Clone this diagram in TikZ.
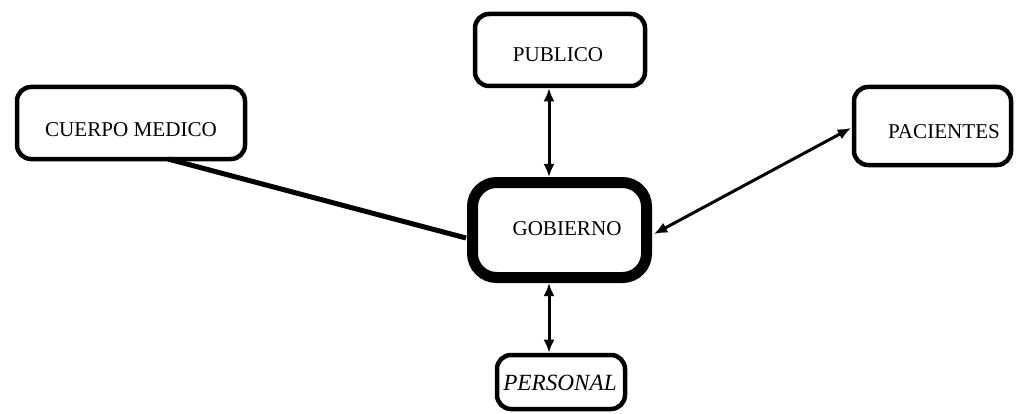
\documentclass[tikz,border=0pt]{standalone}
\usepackage{fontspec}
\setmainfont{Liberation Serif}
\usetikzlibrary{arrows.meta}
\newlength\pxu
\setlength\pxu{0.025cm}
\begin{document}
\begin{tikzpicture}[x=0.025cm, y=-0.025cm,
  box/.style={draw, rectangle, rounded corners=14\pxu, line width=4.5\pxu,
    inner sep=0pt, fill=white},
  mainbox/.style={box, rounded corners=24\pxu, line width=11\pxu},
  lbl/.style={inner sep=0pt, font=\fontsize{15pt}{18pt}\selectfont},
  biarrow/.style={line width=3\pxu,
    {Latex[length=0.33cm,width=0.28cm]}-{Latex[length=0.33cm,width=0.28cm]}},
  plainlink/.style={line width=5\pxu}]
\useasboundingbox (0,0) rectangle (1016,413);

% boxes
\node[mainbox, minimum width=174\pxu, minimum height=95\pxu] (gob) at (559.5,230) {};
\node[box, minimum width=170\pxu, minimum height=72\pxu] (pub) at (560,50) {};
\node[box, minimum width=228\pxu, minimum height=72\pxu] (cm) at (131,123) {};
\node[box, minimum width=157\pxu, minimum height=78\pxu] (pac) at (932.5,126) {};
\node[box, minimum width=128\pxu, minimum height=54\pxu] (per) at (561,382) {};

% labels
\node[lbl] (gobT) at (567,229) {GOBIERNO};
\node[lbl] (pubT) at (558,55) {PUBLICO};
\node[lbl] (cmT) at (131,130) {CUERPO MEDICO};
\node[lbl] (pacT) at (944,132) {PACIENTES};
\node[lbl, font=\fontsize{16.5pt}{19pt}\selectfont\itshape] (perT) at (560,383) {PERSONAL};

% connection points
\coordinate (axis) at (549,0);
\coordinate (cmfoot) at (168,159);
\coordinate (gobleft) at (466,238);
\coordinate (gobright) at (654,234);
\coordinate (pacleft) at (851,128);

% connectors
\draw[biarrow] (pub.south -| axis) -- (gob.north -| axis);
\draw[biarrow] (gob.south -| axis) -- (per.north -| axis);
\draw[biarrow] (gobright) -- (pacleft);
\draw[plainlink] (cmfoot) -- (gobleft);
\end{tikzpicture}
\end{document}
